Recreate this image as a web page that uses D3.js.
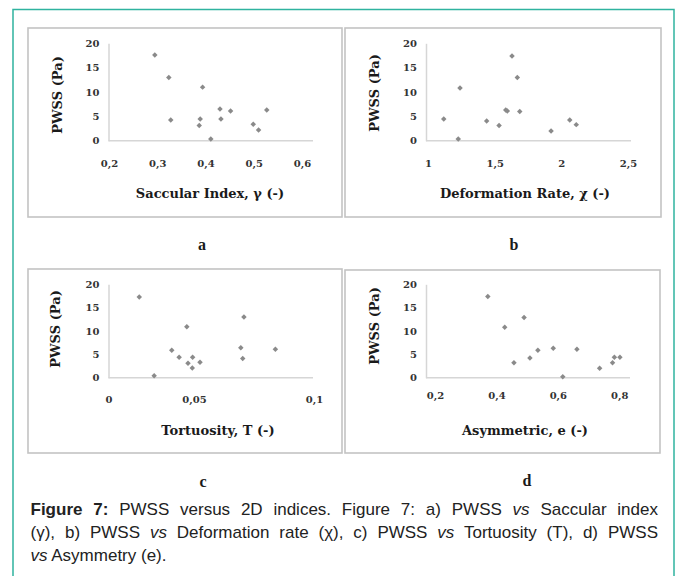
<!DOCTYPE html>
<html>
<head>
<meta charset="utf-8">
<script src="https://cdn.jsdelivr.net/npm/d3@7"></script>
<style>
  html, body { margin: 0; padding: 0; background: #fff; }
  svg { display: block; }
</style>
</head>
<body>
<script>
// Peak wall shear stress (PWSS) against four 2D shape indices, one point per case.
const saccularIndex   = [0.295, 0.324, 0.328, 0.394, 0.389, 0.387, 0.411, 0.430, 0.432, 0.452, 0.499, 0.510, 0.527];
const pwssSaccular    = [17.6, 13.0, 4.25, 11.0, 4.46, 3.1, 0.35, 6.5, 4.46, 6.1, 3.37, 2.2, 6.3];

const deformationRate = [1.118, 1.227, 1.24, 1.44, 1.533, 1.583, 1.595, 1.63, 1.67, 1.688, 1.923, 2.063, 2.112];
const pwssDeformation = [4.46, 0.35, 10.8, 4.05, 3.1, 6.3, 6.1, 17.4, 13.0, 6.0, 2.0, 4.25, 3.3];

const tortuosity      = [0.018, 0.0267, 0.037, 0.0413, 0.0458, 0.0465, 0.049, 0.0492, 0.0525, 0.0695, 0.0703, 0.0708, 0.0839];
const pwssTortuosity  = [17.3, 0.4, 5.9, 4.4, 10.9, 3.1, 2.1, 4.4, 3.3, 6.4, 4.1, 13.0, 6.1];

const asymmetry       = [0.372, 0.427, 0.457, 0.490, 0.509, 0.535, 0.585, 0.616, 0.662, 0.736, 0.778, 0.784, 0.802];
const pwssAsymmetry   = [17.4, 10.8, 3.2, 12.9, 4.2, 5.9, 6.3, 0.2, 6.1, 2.0, 3.2, 4.4, 4.4];

const pwssTicks        = [0, 5, 10, 15, 20];
const saccularTicks    = [0.2, 0.3, 0.4, 0.5, 0.6];
const deformationTicks = [1, 1.5, 2, 2.5];
const tortuosityTicks  = [0, 0.05, 0.1];
const asymmetryTicks   = [0.2, 0.4, 0.6, 0.8];

const panelLetters = ["a", "b", "c", "d"];
const xTitles = ["Saccular Index, γ (-)", "Deformation Rate, χ (-)", "Tortuosity, T (-)", "Asymmetric, e (-)"];
const yTitle = "PWSS (Pa)";

// Layout of the four sub-plots (page pixels).
const panels = [
  { xs: saccularIndex, ys: pwssSaccular, ticks: saccularTicks, domain: [0.2, 0.6], range: [109, 302],
    box: [28, 28, 342, 217], axisX: 108.5, axisEnd: 313, yTop: 43.3, yBottom: 140.7, labelDy: 22.6,
    titlePos: [210, 193], yTitlePos: [57, 95], letterPos: [202, 244] },
  { xs: deformationRate, ys: pwssDeformation, ticks: deformationTicks, domain: [1, 2.5], range: [428, 628],
    box: [345, 28, 661, 217], axisX: 426, axisEnd: 631, yTop: 43.3, yBottom: 140.7, labelDy: 22.6,
    titlePos: [525, 193], yTitlePos: [374, 93], letterPos: [514, 244] },
  { xs: tortuosity, ys: pwssTortuosity, ticks: tortuosityTicks, domain: [0, 0.05, 0.1], range: [108.5, 194, 314],
    box: [28, 269, 342, 453], axisX: 108.5, axisEnd: 313, yTop: 284.3, yBottom: 377.7, labelDy: 21.6,
    titlePos: [218, 430], yTitlePos: [55, 329], letterPos: [203, 481] },
  { xs: asymmetry, ys: pwssAsymmetry, ticks: asymmetryTicks, domain: [0.2, 0.8], range: [435, 619.3],
    box: [345, 270, 660, 453], axisX: 426, axisEnd: 630, yTop: 284.3, yBottom: 377.7, labelDy: 17.3,
    titlePos: [525, 430], yTitlePos: [374, 326], letterPos: [527, 480] }
];

const W = 680, H = 576;
const serif = "'DejaVu Serif', serif";
const fmt = d => String(d).replace(".", ",");

const svg = d3.select("body").append("svg").attr("width", W).attr("height", H);
svg.append("rect").attr("width", W).attr("height", H).attr("fill", "#fff");

// teal frame around the figure
svg.append("rect")
  .attr("x", 13).attr("y", 9.5).attr("width", 661).attr("height", 600)
  .attr("fill", "none").attr("stroke", "#2fb39f").attr("stroke-width", 1.5);

panels.forEach((p, i) => {
  const g = svg.append("g");

  // sub-plot frame
  g.append("rect")
    .attr("x", p.box[0]).attr("y", p.box[1])
    .attr("width", p.box[2] - p.box[0]).attr("height", p.box[3] - p.box[1])
    .attr("fill", "#fff").attr("stroke", "#c3c3c3").attr("stroke-width", 1.6);

  const x = d3.scaleLinear().domain(p.domain).range(p.range);
  const y = d3.scaleLinear().domain([0, 20]).range([p.yBottom, p.yTop]);

  // y axis: line plus bold labels, no tick marks
  const ya = g.append("g").attr("transform", `translate(${p.axisX},0)`)
    .call(d3.axisLeft(y).tickValues(pwssTicks).tickSize(0).tickSizeOuter(0).tickPadding(9).tickFormat(fmt));
  ya.select(".domain").attr("stroke", "#d6d6d6").attr("stroke-width", 1.5);
  ya.selectAll("text").attr("font-family", serif).attr("font-weight", "bold")
    .attr("font-size", 10).attr("fill", "#333");

  // x axis line along PWSS = 0
  g.append("line")
    .attr("x1", p.axisX).attr("x2", p.axisEnd)
    .attr("y1", y(0)).attr("y2", y(0))
    .attr("stroke", "#d6d6d6").attr("stroke-width", 1.5);

  // x labels sit below the plot area
  const xa = g.append("g").attr("transform", `translate(0,${y(0) + p.labelDy})`)
    .call(d3.axisBottom(x).tickValues(p.ticks).tickSize(0).tickPadding(0).tickFormat(fmt));
  xa.select(".domain").remove();
  xa.selectAll("text").attr("y", 0).attr("dy", "0.35em")
    .attr("font-family", serif).attr("font-weight", "bold")
    .attr("font-size", 10).attr("fill", "#333");

  // data points: small grey diamonds
  const pts = p.xs.map((v, k) => [v, p.ys[k]]);
  g.selectAll("path.pt").data(pts).join("path")
    .attr("class", "pt")
    .attr("d", d3.symbol().type(d3.symbolSquare).size(15))
    .attr("transform", d => `translate(${x(d[0])},${y(d[1])}) rotate(45)`)
    .attr("fill", "#8a8a8a");

  // axis titles
  g.append("text")
    .attr("x", p.titlePos[0]).attr("y", p.titlePos[1])
    .attr("text-anchor", "middle").attr("dy", "0.35em")
    .attr("font-family", serif).attr("font-weight", "bold").attr("font-size", 13)
    .attr("fill", "#1a1a1a").text(xTitles[i]);

  g.append("text")
    .attr("transform", `translate(${p.yTitlePos[0]},${p.yTitlePos[1]}) rotate(-90)`)
    .attr("text-anchor", "middle").attr("dy", "0.35em")
    .attr("font-family", serif).attr("font-weight", "bold").attr("font-size", 13)
    .attr("fill", "#1a1a1a").text(yTitle);

  // sub-figure letter
  svg.append("text")
    .attr("x", p.letterPos[0]).attr("y", p.letterPos[1])
    .attr("text-anchor", "middle").attr("dy", "0.35em")
    .attr("font-family", "'Liberation Serif', serif").attr("font-weight", "bold").attr("font-size", 16)
    .attr("fill", "#1a1a1a").text(panelLetters[i]);
});

// Caption, justified over the first two lines
const captionLines = [
  { justify: true, parts: [["Figure 7:", "b"], [" PWSS versus 2D indices. Figure 7: a) PWSS ", ""], ["vs", "i"], [" Saccular index", ""]] },
  { justify: true, parts: [["(γ), b) PWSS ", ""], ["vs", "i"], [" Deformation rate (χ), c) PWSS ", ""], ["vs", "i"], [" Tortuosity (T), d) PWSS", ""]] },
  { justify: false, parts: [["vs", "i"], [" Asymmetry (e).", ""]] }
];
const capX = 30.5, capRight = 658, capBase = 515, capStep = 23;

captionLines.forEach((line, li) => {
  const t = svg.append("text")
    .attr("x", capX).attr("y", capBase + li * capStep)
    .attr("font-family", "'Liberation Sans', Arial, sans-serif").attr("font-size", 17)
    .attr("fill", "#222").style("white-space", "pre");
  line.parts.forEach(([s, st]) => {
    t.append("tspan")
      .attr("font-weight", st === "b" ? "bold" : null)
      .attr("font-style", st === "i" ? "italic" : null)
      .text(s);
  });
  if (line.justify) {
    const natural = t.node().getComputedTextLength();
    const spaces = line.parts.map(d => d[0]).join("").split(" ").length - 1;
    t.style("word-spacing", ((capRight - capX - natural) / spaces) + "px");
  }
});
</script>
</body>
</html>
